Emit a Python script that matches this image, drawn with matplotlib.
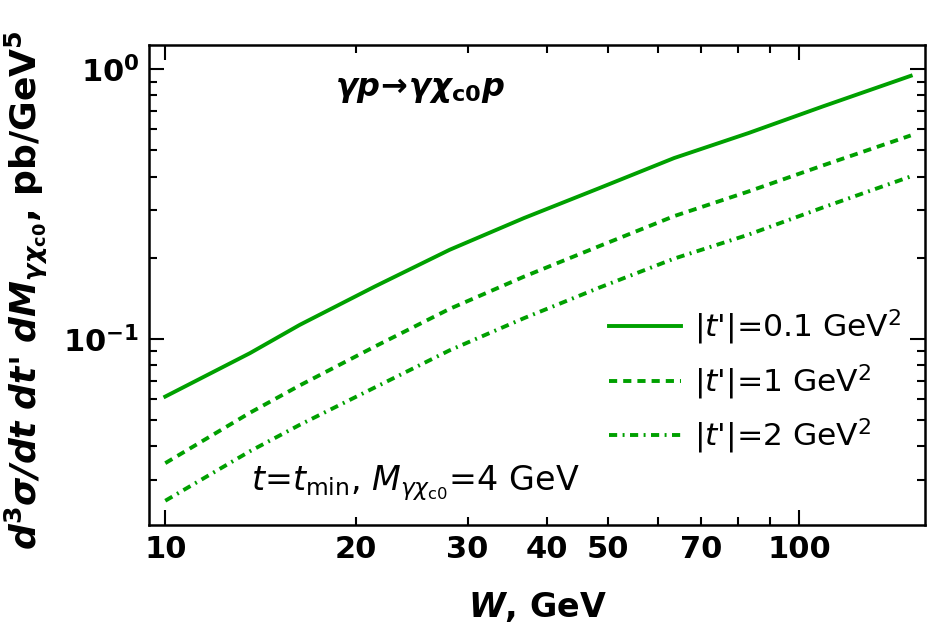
import numpy as np
import matplotlib
matplotlib.use('Agg')
import matplotlib.pyplot as plt
from matplotlib.ticker import FixedLocator, FixedFormatter, LogLocator, NullFormatter

# W (GeV) and d^3sigma/dt dt' dM (pb/GeV^5)
W = [10, 13.6, 16.3, 21.4, 28.1, 36.8, 48.4, 63.5, 83.2, 109, 150]
xs_01 = [0.0611, 0.0885, 0.1127, 0.1563, 0.2140, 0.2805, 0.3623, 0.4683, 0.5797, 0.7277, 0.945]
xs_1 = [0.0346, 0.0532, 0.0672, 0.0936, 0.1292, 0.1701, 0.2208, 0.2852, 0.352, 0.4396, 0.568]
xs_2 = [0.0251, 0.0383, 0.0480, 0.0660, 0.0907, 0.1193, 0.1549, 0.1984, 0.2435, 0.3070, 0.4002]

labels = ["|$t$'|=0.1 GeV$^2$", "|$t$'|=1 GeV$^2$", "|$t$'|=2 GeV$^2$"]

green = '#00a000'
lw = 2.8

fig = plt.figure(figsize=(9.32, 6.29), dpi=100)
ax = fig.add_axes([0.16, 0.1653, 0.8325, 0.7632])

ax.plot(W, xs_01, color=green, lw=lw, ls='-', label=labels[0])
ax.plot(W, xs_1, color=green, lw=lw, ls=(0, (2.1, 1.55)), label=labels[1])
ax.plot(W, xs_2, color=green, lw=lw, ls=(0, (2.1, 1.4, 0.5, 1.4)), label=labels[2])

ax.set_xscale('log')
ax.set_yscale('log')
ax.set_xlim(9.43, 158)
ax.set_ylim(0.0204, 1.23)

# x ticks: majors at 10, 100 + labelled minors
ax.xaxis.set_major_locator(FixedLocator([10, 100]))
ax.xaxis.set_minor_locator(FixedLocator([20, 30, 40, 50, 60, 70, 80, 90]))
ax.xaxis.set_major_formatter(FixedFormatter(['10', '100']))
ax.xaxis.set_minor_formatter(FixedFormatter(['20', '30', '40', '50', '', '70', '', '']))

ax.yaxis.set_major_locator(FixedLocator([0.1, 1.0]))
ax.yaxis.set_major_formatter(FixedFormatter([r'$\mathbf{10^{-1}}$', r'$\mathbf{10^{0}}$']))
ax.yaxis.set_minor_locator(LogLocator(base=10, subs=np.arange(2, 10)))
ax.yaxis.set_minor_formatter(NullFormatter())

ax.tick_params(which='both', direction='in', top=True, right=True, width=1.5)
ax.tick_params(which='major', length=11, labelsize=22, pad=7)
ax.tick_params(which='minor', length=5.5, labelsize=22, pad=7)
for lab in ax.get_xticklabels(which='both') + ax.get_yticklabels():
    lab.set_fontweight('bold')
for sp in ax.spines.values():
    sp.set_linewidth(1.8)

ax.set_xlabel(r'$\mathbfit{W}$, GeV', fontsize=24, fontweight='bold')
ax.xaxis.set_label_coords(0.5, -0.135)
ax.xaxis.label.set_va('top')
ax.set_ylabel(r"$\mathbfit{d}^\mathbf{3}\mathbfit{\sigma/d t\ d t}$' "
              r"$\mathbfit{d M_{\gamma\chi_{\mathbf{c0}}}}$, pb/GeV$^\mathbf{5}$",
              fontsize=26, fontweight='bold')
ax.yaxis.set_label_coords(-0.128, 0.49)

ax.text(0.24, 0.893, r'$\mathbfit{\gamma p\!\rightarrow\!\gamma\chi_{\mathbf{c0}}p}$', transform=ax.transAxes,
        fontsize=23, va='baseline', ha='left')
ax.text(0.131, 0.073, r'$t$=$t_{\rm min}$, $M_{\gamma\chi_{\rm c0}}$=4 GeV', transform=ax.transAxes,
        fontsize=24, va='baseline', ha='left')

ax.legend(loc='upper left', bbox_to_anchor=(0.5926, 0.453), frameon=False, fontsize=22.6,
          handlelength=2.3, handletextpad=0.4, labelspacing=0.48,
          borderpad=0, borderaxespad=0)

plt.savefig('out.png', dpi=100)
